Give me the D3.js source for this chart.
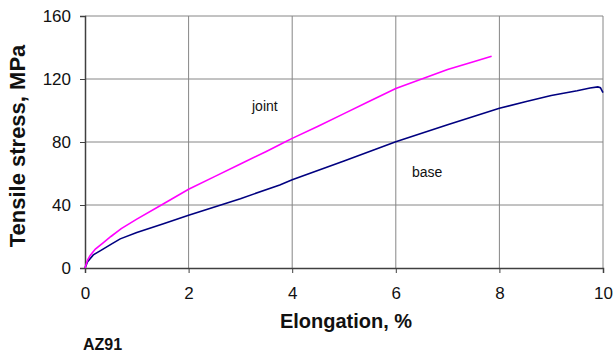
<!DOCTYPE html>
<html>
<head>
<meta charset="utf-8">
<script src="https://cdn.jsdelivr.net/npm/d3@7"></script>
<style>
  body { margin: 0; background: #fff; }
  text { font-family: Arial, "Liberation Sans", sans-serif; }
</style>
</head>
<body>
<div id="chart"></div>
<script>
// Readings from the reference chart (elongation %, stress MPa)
const jointX = [0, 0.05, 0.1, 0.2, 0.35, 0.5, 0.7, 1, 1.5, 2, 2.5, 3, 3.5, 3.86, 4, 4.5, 5, 5.5, 6, 6.5, 7, 7.5, 7.85];
const jointY = [0, 5, 8, 12, 16, 20, 25, 31, 40.5, 50, 58, 66, 74, 80, 82.3, 90, 98, 106, 114, 120, 126, 131, 134.5];
const baseX = [0, 0.05, 0.16, 0.3, 0.5, 0.68, 1, 1.5, 2, 2.5, 3, 3.76, 4, 5, 6, 7, 8, 8.5, 9, 9.5, 9.75, 9.9, 9.95, 10];
const baseY = [0, 4, 8.3, 11, 15, 18.5, 22.5, 28, 33.5, 38.8, 44, 52.7, 56, 68, 80.2, 91, 101.4, 105.5, 109.5, 112.5, 114.3, 115, 114.5, 111.3];
const xTicks = [0, 2, 4, 6, 8, 10];
const yTicks = [0, 40, 80, 120, 160];

const width = 616, height = 354;
const margin = {top: 16, right: 13, bottom: 86, left: 85};

const svg = d3.select("#chart").append("svg")
    .attr("width", width)
    .attr("height", height);

const x = d3.scaleLinear().domain([0, 10]).range([margin.left, width - margin.right]);
const y = d3.scaleLinear().domain([0, 160]).range([height - margin.bottom, margin.top]);

// Grid lines
svg.append("g").selectAll("line")
    .data(xTicks.slice(1))
    .join("line")
    .attr("x1", d => x(d)).attr("x2", d => x(d))
    .attr("y1", y(0)).attr("y2", y(160))
    .attr("stroke", "#868686").attr("stroke-width", 1);

svg.append("g").selectAll("line")
    .data(yTicks.slice(1))
    .join("line")
    .attr("x1", x(0)).attr("x2", x(10))
    .attr("y1", d => y(d)).attr("y2", d => y(d))
    .attr("stroke", "#868686").attr("stroke-width", 1);

// Axes
const xAxis = svg.append("g")
    .attr("transform", `translate(0,${y(0)})`)
    .call(d3.axisBottom(x).tickValues(xTicks).tickSize(5).tickPadding(14).tickFormat(d3.format("d")));
const yAxis = svg.append("g")
    .attr("transform", `translate(${x(0)},0)`)
    .call(d3.axisLeft(y).tickValues(yTicks).tickSize(5).tickPadding(9).tickFormat(d3.format("d")));

[xAxis, yAxis].forEach(g => {
    g.select(".domain").attr("stroke", "#404040").attr("stroke-width", 1.5);
    g.selectAll(".tick line").attr("stroke", "#404040");
    g.selectAll(".tick text")
        .attr("fill", "#111")
        .style("font-size", "17px")
        .style("font-family", "Arial, 'Liberation Sans', sans-serif");
});

// Curves
const line = d3.line().x(d => x(d[0])).y(d => y(d[1]));

svg.append("path")
    .datum(baseX.map((v, i) => [v, baseY[i]]))
    .attr("d", line)
    .attr("fill", "none")
    .attr("stroke", "#000080")
    .attr("stroke-width", 1.6);

svg.append("path")
    .datum(jointX.map((v, i) => [v, jointY[i]]))
    .attr("d", line)
    .attr("fill", "none")
    .attr("stroke", "#ff00ff")
    .attr("stroke-width", 1.6);

// Curve labels
svg.append("text")
    .attr("x", 252).attr("y", 111)
    .style("font-size", "14px").attr("fill", "#111")
    .text("joint");
svg.append("text")
    .attr("x", 412).attr("y", 177)
    .style("font-size", "14px").attr("fill", "#111")
    .text("base");

// Axis titles
svg.append("text")
    .attr("x", 346).attr("y", 328)
    .attr("text-anchor", "middle")
    .style("font-size", "20px").style("font-weight", "bold")
    .attr("fill", "#111")
    .text("Elongation, %");

svg.append("text")
    .attr("transform", `translate(25,146) rotate(-90)`)
    .attr("text-anchor", "middle")
    .style("font-size", "22px").style("font-weight", "bold")
    .attr("fill", "#111")
    .text("Tensile stress, MPa");

svg.append("text")
    .attr("x", 83).attr("y", 350)
    .style("font-size", "16px").style("font-weight", "bold")
    .attr("fill", "#111")
    .text("AZ91");
</script>
</body>
</html>
